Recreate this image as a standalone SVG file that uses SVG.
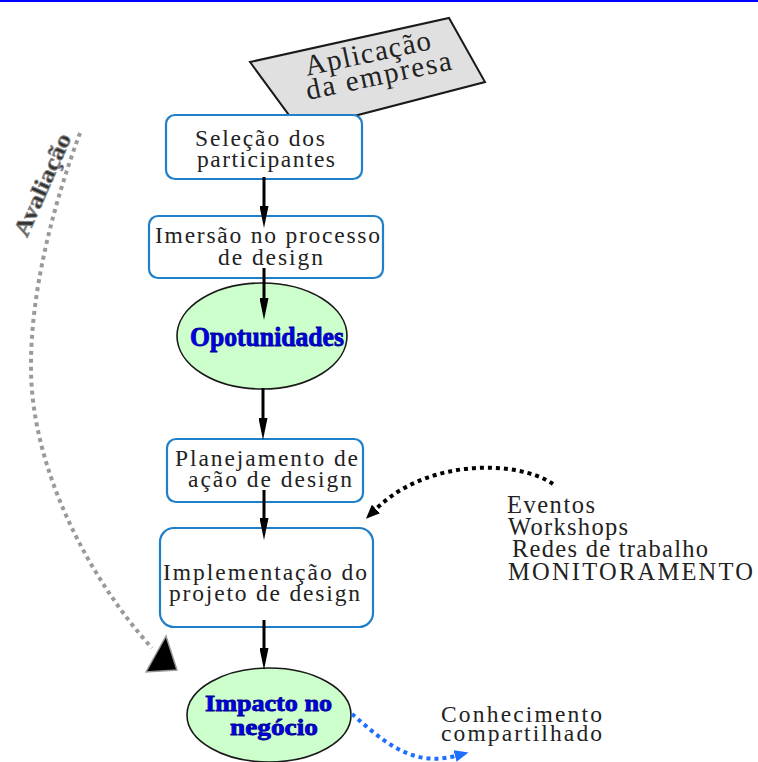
<svg xmlns="http://www.w3.org/2000/svg" width="758" height="762" viewBox="0 0 758 762">
<style>
.box{fill:#fff;stroke:#1f7fc8;stroke-width:2.2}
.ell{fill:#ccffcc;stroke:#1a1a1a;stroke-width:1.6}
.t{font-family:"Liberation Serif","Times New Roman",serif;font-size:23.5px;fill:#222}
.tb{font-family:"Liberation Serif","Times New Roman",serif;font-weight:bold;fill:#0000ee;stroke:#000090;stroke-width:0.8}
.arr{stroke:#000;stroke-width:3;fill:none;marker-end:url(#ah)}
</style>
<defs>
<marker id="ah" markerUnits="userSpaceOnUse" markerWidth="22" markerHeight="9" viewBox="0 0 22 9" refX="0" refY="4.5" orient="auto"><path d="M0,0 L22,4.5 L0,9 Z" fill="#000"/></marker>
<marker id="dh" markerUnits="userSpaceOnUse" markerWidth="14" markerHeight="12" viewBox="0 0 14 12" refX="0" refY="6" orient="auto"><path d="M0,0 L14,6 L0,12 Z" fill="#000"/></marker>
<marker id="bh" markerUnits="userSpaceOnUse" markerWidth="14" markerHeight="12" viewBox="0 0 14 12" refX="0" refY="6" orient="auto"><path d="M0,0 L14,6 L0,12 Z" fill="#1f6fff"/></marker>
</defs>
<rect x="0" y="0" width="758" height="762" fill="#fff"/>
<rect x="0" y="0" width="758" height="2" fill="#0000ff"/>

<g id="aplicacao">
<polygon points="250,62 449,18 485,82 300,130" fill="#e0e0e0" stroke="#1a1a1a" stroke-width="2"/>
<g transform="translate(368,74) rotate(-12)">
<text class="t" style="font-size:29px" x="4" y="-11" text-anchor="middle" textLength="128" lengthAdjust="spacing">Aplicação</text>
<text class="t" style="font-size:29px" x="10" y="13" text-anchor="middle" textLength="148" lengthAdjust="spacing">da empresa</text>
</g>
</g>

<g id="avaliacao">
<text x="0" y="0" transform="translate(27,238) rotate(-66)" style="font-family:'Liberation Serif','Times New Roman',serif;font-weight:bold;font-size:23px;fill:#333;stroke:#888;stroke-width:0.9" textLength="110" lengthAdjust="spacingAndGlyphs">Avaliação</text>
</g>

<g id="selecao">
<rect class="box" x="166" y="115" width="196" height="64" rx="9"/>
<text class="t" x="195" y="146" textLength="130" lengthAdjust="spacing">Seleção dos</text>
<text class="t" x="197" y="167" textLength="138" lengthAdjust="spacing">participantes</text>
</g>

<g id="imersao">
<rect class="box" x="149" y="216" width="234" height="62" rx="9"/>
<text class="t" x="155" y="243" textLength="225" lengthAdjust="spacing">Imersão no processo</text>
<text class="t" x="218" y="265" textLength="105" lengthAdjust="spacing">de design</text>
</g>

<g id="oportunidades">
<ellipse class="ell" cx="262" cy="336" rx="85" ry="53"/>
<text class="tb" style="font-size:27px" x="190" y="346" textLength="154" lengthAdjust="spacingAndGlyphs">Opotunidades</text>
</g>

<g id="planejamento">
<rect class="box" x="167" y="439" width="196" height="63" rx="9"/>
<text class="t" x="175" y="466" textLength="183" lengthAdjust="spacing">Planejamento de</text>
<text class="t" x="188" y="487" textLength="164" lengthAdjust="spacing">ação de design</text>
</g>

<g id="implementacao">
<rect class="box" x="160" y="528" width="213" height="99" rx="14"/>
<text class="t" x="163" y="580" textLength="204" lengthAdjust="spacing">Implementação do</text>
<text class="t" x="169" y="601" textLength="191" lengthAdjust="spacing">projeto de design</text>
</g>

<g id="impacto">
<ellipse class="ell" cx="269" cy="715" rx="82" ry="47"/>
<text class="tb" style="font-size:24px" x="205" y="711" textLength="127" lengthAdjust="spacingAndGlyphs">Impacto no</text>
<text class="tb" style="font-size:24px" x="230" y="735" textLength="88" lengthAdjust="spacingAndGlyphs">negócio</text>
</g>

<g id="eventos">
<text class="t" style="font-size:24.5px" x="507" y="513" textLength="88" lengthAdjust="spacing">Eventos</text>
<text class="t" style="font-size:24.5px" x="508" y="535" textLength="120" lengthAdjust="spacing">Workshops</text>
<text class="t" style="font-size:24.5px" x="512" y="557" textLength="196" lengthAdjust="spacing">Redes de trabalho</text>
<text class="t" style="font-size:24.5px" x="508" y="580" textLength="245" lengthAdjust="spacing">MONITORAMENTO</text>
</g>

<g id="conhecimento">
<text class="t" x="441" y="722" textLength="161" lengthAdjust="spacing">Conhecimento</text>
<text class="t" x="441" y="741" textLength="161" lengthAdjust="spacing">compartilhado</text>
</g>

<g id="connectors">
<line class="arr" x1="264" y1="177" x2="264" y2="206"/>
<line class="arr" x1="264" y1="268" x2="264" y2="298"/>
<line class="arr" x1="263" y1="388" x2="263" y2="418"/>
<line class="arr" x1="264" y1="490" x2="264" y2="518"/>
<line class="arr" x1="264" y1="620" x2="264" y2="648"/>
<path d="M80,133 C55,200 30,290 31,370 C32,470 90,580 152,648" fill="none" stroke="#9a9a9a" stroke-width="4" stroke-dasharray="4 4"/>
<polygon points="146,672 166,636 177,670" fill="#000" stroke="#999" stroke-width="1.5"/>
<path d="M553,484 C518,460 428,458 376,509" fill="none" stroke="#000" stroke-width="4" stroke-dasharray="4 4" marker-end="url(#dh)"/>
<path d="M352,714 C380,738 410,768 455,756" fill="none" stroke="#1f6fff" stroke-width="4" stroke-dasharray="4 4" marker-end="url(#bh)"/>
</g>
</svg>
